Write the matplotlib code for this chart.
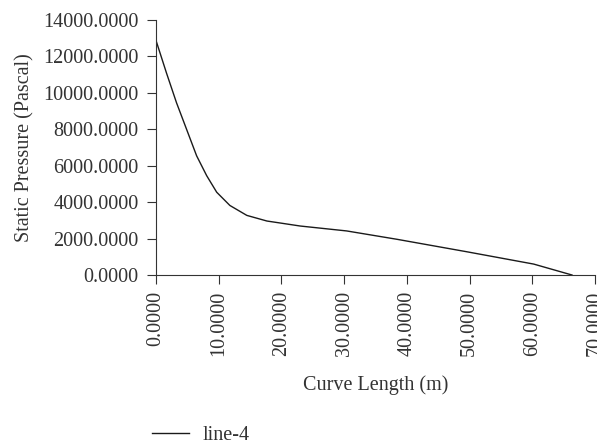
import matplotlib.pyplot as plt
from matplotlib.ticker import FormatStrFormatter

# ===== Data: static pressure along the curve =====
curve_length = [0.0, 1.7, 3.3, 4.9, 6.5, 8.1, 9.7, 11.8, 14.5, 17.7,
                19.8, 23.0, 30.4, 38.4, 49.6, 60.2, 66.3]
static_pressure = [12910, 11090, 9455, 8000, 6545, 5455, 4545, 3818, 3273, 2964,
                   2856, 2690, 2420, 1962, 1273, 600, 0]

x_ticks = [0, 10, 20, 30, 40, 50, 60, 70]
y_ticks = [0, 2000, 4000, 6000, 8000, 10000, 12000, 14000]

plt.rcParams['font.family'] = ['Liberation Serif', 'DejaVu Serif']
plt.rcParams['font.size'] = 14.5

fig = plt.figure(figsize=(5.97, 4.45), dpi=100)
ax = fig.add_axes([0.261, 0.382, 0.736, 0.573])

line, = ax.plot(curve_length, static_pressure, color='#1a1a1a', linewidth=1.0,
                label='line-4', solid_joinstyle='round')

ax.set_xlim(0, 70)
ax.set_ylim(0, 14000)
ax.set_xticks(x_ticks)
ax.set_yticks(y_ticks)
ax.xaxis.set_major_formatter(FormatStrFormatter('%.4f'))
ax.yaxis.set_major_formatter(FormatStrFormatter('%.4f'))
ax.tick_params(axis='x', rotation=90, direction='out', length=6.5, pad=5,
               color='#333333', labelcolor='#333333')
ax.tick_params(axis='y', direction='out', length=6.5, pad=6,
               color='#333333', labelcolor='#333333')

for side in ['top', 'right']:
    ax.spines[side].set_visible(False)
for side in ['left', 'bottom']:
    ax.spines[side].set_color('#333333')

ax.set_xlabel('Curve Length (m)', color='#333333', labelpad=14)
ax.set_ylabel('Static Pressure (Pascal)', color='#333333', labelpad=6)

fig.legend(handles=[line], loc='center left', bbox_to_anchor=(0.225, 0.022),
           frameon=False, handlelength=1.8, handletextpad=0.7, labelcolor='#333333')

fig.savefig('out.png', dpi=100)
